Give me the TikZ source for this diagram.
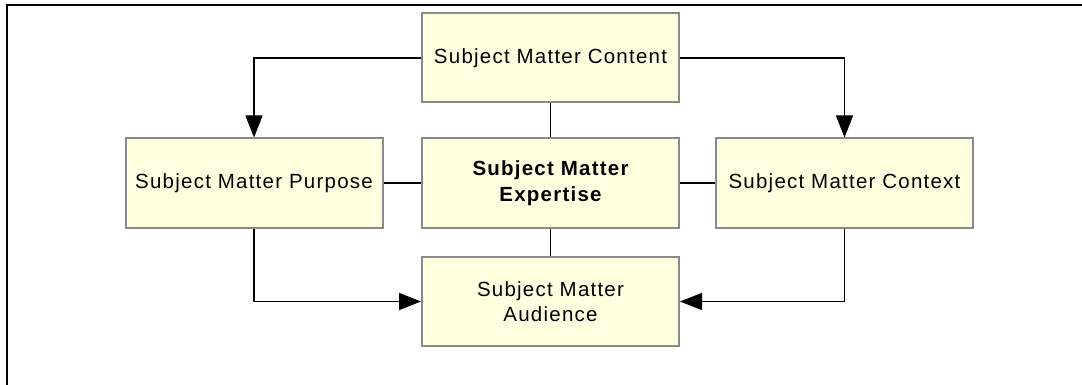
\documentclass[tikz,border=0pt]{standalone}
\usepackage{xcolor}
\usepackage{fontspec}
\setmainfont{Liberation Sans}[LetterSpace=6]
\usepackage{tikz}
\usetikzlibrary{shapes, arrows.meta, positioning}
\definecolor{boxfill}{HTML}{FFFFE0}
\definecolor{boxline}{HTML}{8A8A8A}

\begin{document}
\begin{tikzpicture}
  [
    x=1pt, y=-1pt,
    Box/.style={rectangle, draw=boxline, fill=boxfill, line width=2pt,
      minimum width=257pt, minimum height=89pt, align=center,
      font=\fontsize{20.5}{25.5}\selectfont},
    Link/.style={draw, line width=1.5pt},
    Flow/.style={draw, line width=1.5pt, -{Triangle[length=22pt, width=17pt]}}
  ]
  \useasboundingbox (0,0) rectangle (1082,385);
  % Frame
  \draw[line width=2pt] (7,385) -- (7,5) -- (1082,5);
  % Nodes
  \node[Box] (content) at(550.5, 58) {Subject Matter Content};
  \node[Box] (purpose) at(254, 183) {Subject Matter Purpose};
  \node[Box, font=\fontsize{20.5}{25.5}\selectfont\bfseries] (expertise) at(550.5, 183) {Subject Matter\\Expertise};
  \node[Box] (context) at(844.5, 183) {Subject Matter Context};
  \node[Box] (audience) at(550.5, 301.5) {Subject Matter\\Audience};
  % Lines
  \path [Link] (content) -- (expertise);
  \path [Link] (expertise) -- (audience);
  \path [Link] (purpose) -- (expertise);
  \path [Link] (expertise) -- (context);
  \path [Flow] (content.west) -| (purpose.north);
  \path [Flow] (content.east) -| (context.north);
  \path [Flow] (purpose.south) |- (audience.west);
  \path [Flow] (context.south) |- (audience.east);
\end{tikzpicture}
\end{document}
